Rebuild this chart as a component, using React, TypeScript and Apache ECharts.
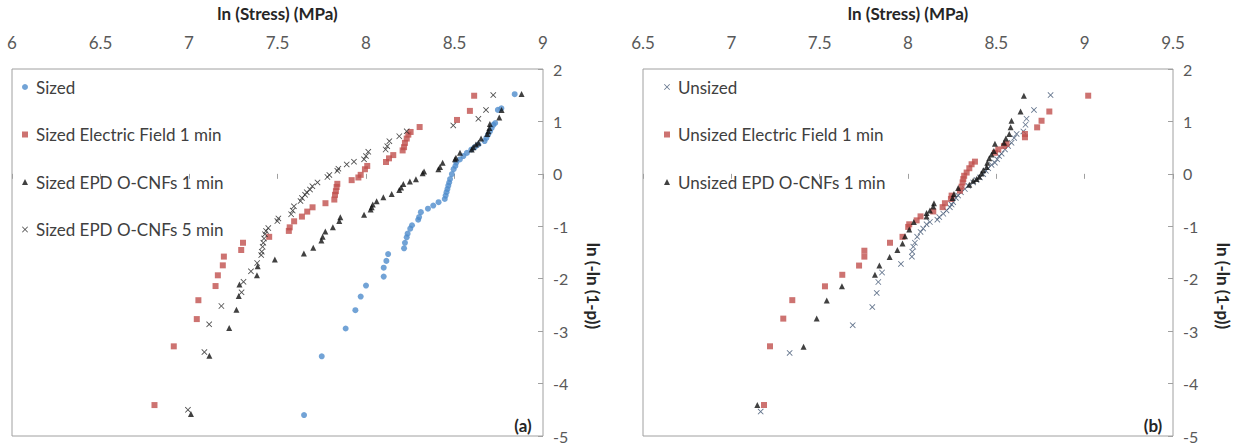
import React, { useEffect, useRef } from "react";
import * as echarts from "echarts";

const FONT = "Lato";

const sized: [number, number][] = [
  [7.65, -4.6], [7.75, -3.48], [7.885, -2.95], [7.94, -2.6], [7.97, -2.34], [8.0, -2.13],
  [8.1, -1.96], [8.1, -1.79], [8.115, -1.66], [8.125, -1.53], [8.215, -1.42], [8.22, -1.315],
  [8.23, -1.21], [8.235, -1.14], [8.25, -1.045], [8.26, -0.98], [8.295, -0.875], [8.3, -0.825],
  [8.31, -0.73], [8.35, -0.665], [8.38, -0.605], [8.41, -0.54], [8.445, -0.48], [8.45, -0.415],
  [8.455, -0.35], [8.46, -0.29], [8.465, -0.225], [8.47, -0.165], [8.475, -0.1], [8.485, -0.005],
  [8.495, 0.09], [8.505, 0.15], [8.51, 0.215], [8.53, 0.275], [8.55, 0.34], [8.57, 0.4],
  [8.595, 0.465], [8.615, 0.51], [8.635, 0.56], [8.67, 0.625], [8.68, 0.685], [8.69, 0.75],
  [8.7, 0.81], [8.71, 0.875], [8.72, 0.935], [8.73, 0.97], [8.745, 1.22], [8.765, 1.25], [8.84, 1.52],
];

const sizedEF: [number, number][] = [
  [6.805, -4.41], [6.914, -3.29], [7.044, -2.77], [7.053, -2.41], [7.15, -2.14], [7.163, -1.935],
  [7.191, -1.745], [7.197, -1.578], [7.295, -1.452], [7.305, -1.314], [7.453, -1.201], [7.564, -1.088],
  [7.569, -1.02], [7.594, -0.905], [7.638, -0.815], [7.668, -0.72], [7.698, -0.638], [7.771, -0.56],
  [7.821, -0.49], [7.825, -0.4], [7.83, -0.33], [7.834, -0.25], [7.838, -0.19], [7.919, -0.12],
  [7.957, -0.069], [7.97, -0.019], [7.994, 0.088], [8.007, 0.151], [8.113, 0.226], [8.13, 0.296],
  [8.154, 0.358], [8.207, 0.447], [8.215, 0.509], [8.22, 0.591], [8.23, 0.673], [8.239, 0.748],
  [8.252, 0.799], [8.303, 0.893], [8.514, 1.028], [8.587, 1.201], [8.611, 1.49],
];

const sizedEPD1: [number, number][] = [
  [7.011, -4.58], [7.115, -3.47], [7.227, -2.94], [7.268, -2.59], [7.281, -2.33], [7.285, -2.11],
  [7.384, -1.935], [7.388, -1.76], [7.485, -1.635], [7.649, -1.52], [7.702, -1.409], [7.748, -1.27],
  [7.755, -1.201], [7.77, -1.1], [7.813, -1.02], [7.849, -0.9], [7.855, -0.83], [7.989, -0.78],
  [8.026, -0.679], [8.032, -0.635], [8.038, -0.585], [8.06, -0.522], [8.098, -0.447], [8.145, -0.384],
  [8.188, -0.308], [8.198, -0.258], [8.211, -0.195], [8.248, -0.145], [8.282, -0.101], [8.32, 0.013],
  [8.328, 0.044], [8.409, 0.088], [8.418, 0.132], [8.433, 0.214], [8.503, 0.277], [8.508, 0.308],
  [8.531, 0.403], [8.597, 0.465], [8.606, 0.509], [8.621, 0.56], [8.635, 0.591], [8.65, 0.673],
  [8.685, 0.761], [8.691, 0.811], [8.697, 0.874], [8.7, 0.95], [8.753, 1.075], [8.766, 1.22], [8.879, 1.522],
];

const sizedEPD5: [number, number][] = [
  [6.994, -4.5], [7.087, -3.4], [7.114, -2.87], [7.183, -2.52], [7.297, -2.26], [7.308, -2.06],
  [7.35, -1.86], [7.385, -1.7], [7.408, -1.55], [7.411, -1.484], [7.416, -1.39], [7.42, -1.315],
  [7.424, -1.233], [7.429, -1.15], [7.435, -1.088], [7.448, -1.035], [7.499, -0.9], [7.505, -0.85],
  [7.577, -0.77], [7.586, -0.7], [7.593, -0.62], [7.63, -0.52], [7.638, -0.46], [7.656, -0.4],
  [7.665, -0.35], [7.684, -0.3], [7.697, -0.235], [7.726, -0.164], [7.782, -0.06], [7.793, -0.02],
  [7.838, 0.057], [7.844, 0.098], [7.891, 0.18], [7.932, 0.233], [7.989, 0.277], [8.0, 0.34],
  [8.013, 0.421], [8.111, 0.465], [8.12, 0.528], [8.132, 0.623], [8.188, 0.717], [8.23, 0.811],
  [8.493, 0.924], [8.635, 1.05], [8.678, 1.22], [8.719, 1.503],
];

const unsized: [number, number][] = [
  [7.166, -4.535], [7.33, -3.415], [7.687, -2.887], [7.798, -2.541], [7.823, -2.271], [7.832, -2.063],
  [7.853, -1.881], [7.96, -1.717], [8.022, -1.579], [8.024, -1.484], [8.03, -1.39], [8.039, -1.314],
  [8.052, -1.201], [8.071, -1.107], [8.086, -1.044], [8.105, -0.962], [8.124, -0.918], [8.166, -0.874],
  [8.177, -0.824], [8.2, -0.761], [8.218, -0.698], [8.237, -0.635], [8.247, -0.585], [8.256, -0.541],
  [8.271, -0.459], [8.284, -0.415], [8.3, -0.352], [8.322, -0.289], [8.341, -0.226], [8.369, -0.163],
  [8.388, -0.119], [8.407, -0.069], [8.426, -0.006], [8.441, 0.057], [8.454, 0.107], [8.473, 0.17],
  [8.492, 0.214], [8.505, 0.277], [8.516, 0.34], [8.53, 0.384], [8.549, 0.466], [8.567, 0.529],
  [8.586, 0.591], [8.601, 0.686], [8.615, 0.761], [8.653, 0.81], [8.665, 0.937], [8.671, 1.051],
  [8.713, 1.22], [8.807, 1.503],
];

const unsizedEF: [number, number][] = [
  [7.185, -4.409], [7.219, -3.289], [7.294, -2.761], [7.345, -2.409], [7.53, -2.145], [7.628, -1.925],
  [7.723, -1.749], [7.753, -1.579], [7.753, -1.466], [7.898, -1.314], [7.969, -1.201], [8.001, -1.012],
  [8.007, -0.962], [8.049, -0.887], [8.071, -0.811], [8.143, -0.717], [8.196, -0.635], [8.209, -0.56],
  [8.243, -0.478], [8.247, -0.415], [8.294, -0.321], [8.303, -0.245], [8.309, -0.163], [8.313, -0.1],
  [8.318, -0.037], [8.332, 0.025], [8.347, 0.107], [8.36, 0.183], [8.379, 0.233], [8.492, 0.403],
  [8.511, 0.466], [8.543, 0.529], [8.558, 0.573], [8.662, 0.698], [8.662, 0.761], [8.731, 0.887],
  [8.756, 1.013], [8.8, 1.189], [9.02, 1.491],
];

const unsizedEPD1: [number, number][] = [
  [7.147, -4.409], [7.409, -3.296], [7.483, -2.761], [7.54, -2.415], [7.626, -2.145], [7.813, -1.925],
  [7.838, -1.749], [7.896, -1.585], [7.94, -1.453], [7.969, -1.327], [7.983, -1.188], [8.007, -1.063],
  [8.033, -0.918], [8.105, -0.811], [8.105, -0.748], [8.124, -0.698], [8.143, -0.622], [8.147, -0.56],
  [8.252, -0.459], [8.26, -0.384], [8.284, -0.27], [8.347, -0.207], [8.369, -0.132], [8.388, -0.1],
  [8.403, -0.056], [8.416, 0.007], [8.426, 0.069], [8.445, 0.132], [8.449, 0.214], [8.46, 0.296],
  [8.473, 0.371], [8.486, 0.434], [8.492, 0.573], [8.543, 0.591], [8.554, 0.673], [8.573, 0.761],
  [8.581, 0.887], [8.586, 1.013], [8.637, 1.189], [8.656, 1.491],
];

const leftXTicks = { min: 6, max: 9, interval: 0.5 };
const rightXTicks = { min: 6.5, max: 9.5, interval: 0.5 };
const yTicks = { min: -5, max: 2, interval: 1 };

const xTitle = "ln (Stress) (MPa)";
const yTitle = "ln (-ln (1-p))";

const CROSS = "path://M1,0L5,4L9,0L10,1L6,5L10,9L9,10L5,6L1,10L0,9L4,5L0,1Z";
const BLUE = "#4f8ccc";
const RED = "#c0504d";
const BLACK = "#111111";
const GRAY = "#a0a0a0";

export default function App() {
  const ref = useRef<HTMLDivElement>(null);
  useEffect(() => {
    if (!ref.current) return;
    const chart = echarts.init(ref.current, undefined, { renderer: "svg" });

    const xAxisBase = (gridIndex: number, t: { min: number; max: number; interval: number }) => ({
      gridIndex,
      type: "value",
      position: "top",
      min: t.min,
      max: t.max,
      interval: t.interval,
      name: xTitle,
      nameLocation: "middle",
      nameGap: 47,
      nameTextStyle: { fontFamily: FONT, fontSize: 17, fontWeight: "bold", color: "#262626" },
      axisLine: { show: false },
      axisTick: { show: true, inside: true, length: 5, lineStyle: { color: GRAY } },
      axisLabel: { margin: 18, fontFamily: FONT, fontSize: 17, color: "#595959" },
      splitLine: { show: false },
    });
    const yAxisBase = (gridIndex: number) => ({
      gridIndex,
      type: "value",
      position: "right",
      min: yTicks.min,
      max: yTicks.max,
      interval: yTicks.interval,
      axisLine: { show: false },
      axisTick: { show: true, inside: true, length: 5, lineStyle: { color: GRAY } },
      axisLabel: { margin: 10, fontFamily: FONT, fontSize: 16, color: "#595959" },
      splitLine: { show: false },
    });

    const legendBase = {
      orient: "vertical",
      top: 77,
      padding: 0,
      itemWidth: 6,
      itemHeight: 6,
      itemGap: 27.5,
      selectedMode: false,
      textStyle: { fontFamily: FONT, fontSize: 17, color: "#404040", lineHeight: 20, padding: [0, 0, 0, 3] },
    };

    chart.setOption({
      animation: false,
      backgroundColor: "#ffffff",
      grid: [
        { left: 12, top: 67, width: 531, height: 369, show: true, borderColor: GRAY, borderWidth: 1, backgroundColor: "transparent" },
        { left: 643, top: 67, width: 530, height: 369, show: true, borderColor: GRAY, borderWidth: 1, backgroundColor: "transparent" },
      ],
      xAxis: [xAxisBase(0, leftXTicks), xAxisBase(1, rightXTicks)],
      yAxis: [yAxisBase(0), yAxisBase(1)],
      legend: [
        { ...legendBase, left: 22, data: ["Sized", "Sized Electric Field 1 min", "Sized EPD O-CNFs 1 min", "Sized EPD O-CNFs 5 min"] },
        { ...legendBase, left: 664, data: ["Unsized", "Unsized Electric Field 1 min", "Unsized EPD O-CNFs 1 min"] },
      ],
      series: [
        { name: "Sized", type: "scatter", xAxisIndex: 0, yAxisIndex: 0, data: sized, symbol: "circle", symbolSize: 6, itemStyle: { color: BLUE } },
        { name: "Sized Electric Field 1 min", type: "scatter", xAxisIndex: 0, yAxisIndex: 0, data: sizedEF, symbol: "rect", symbolSize: 6, itemStyle: { color: RED } },
        { name: "Sized EPD O-CNFs 1 min", type: "scatter", xAxisIndex: 0, yAxisIndex: 0, data: sizedEPD1, symbol: "triangle", symbolSize: 6, itemStyle: { color: BLACK } },
        { name: "Sized EPD O-CNFs 5 min", type: "scatter", xAxisIndex: 0, yAxisIndex: 0, data: sizedEPD5, symbol: CROSS, symbolSize: 6, itemStyle: { color: "#222222" } },
        { name: "Unsized", type: "scatter", xAxisIndex: 1, yAxisIndex: 1, data: unsized, symbol: CROSS, symbolSize: 6, itemStyle: { color: "#3d5270" } },
        { name: "Unsized Electric Field 1 min", type: "scatter", xAxisIndex: 1, yAxisIndex: 1, data: unsizedEF, symbol: "rect", symbolSize: 6, itemStyle: { color: RED } },
        { name: "Unsized EPD O-CNFs 1 min", type: "scatter", xAxisIndex: 1, yAxisIndex: 1, data: unsizedEPD1, symbol: "triangle", symbolSize: 6, itemStyle: { color: BLACK } },
      ],
      graphic: [
        { type: "text", x: 593, y: 286, rotation: -Math.PI / 2, style: { text: yTitle, fontFamily: FONT, fontSize: 17, fontWeight: "bold", fill: "#262626", align: "center", verticalAlign: "middle" } },
        { type: "text", x: 1223, y: 286, rotation: -Math.PI / 2, style: { text: yTitle, fontFamily: FONT, fontSize: 17, fontWeight: "bold", fill: "#262626", align: "center", verticalAlign: "middle" } },
        { type: "text", x: 523, y: 425, style: { text: "(a)", fontFamily: FONT, fontSize: 17, fontWeight: "bold", fill: "#262626", align: "center", verticalAlign: "middle" } },
        { type: "text", x: 1153, y: 425, style: { text: "(b)", fontFamily: FONT, fontSize: 17, fontWeight: "bold", fill: "#262626", align: "center", verticalAlign: "middle" } },
      ],
    });
    return () => chart.dispose();
  }, []);
  return <div ref={ref} style={{ position: "fixed", left: 0, top: 0, width: 1237, height: 446 }} />;
}
